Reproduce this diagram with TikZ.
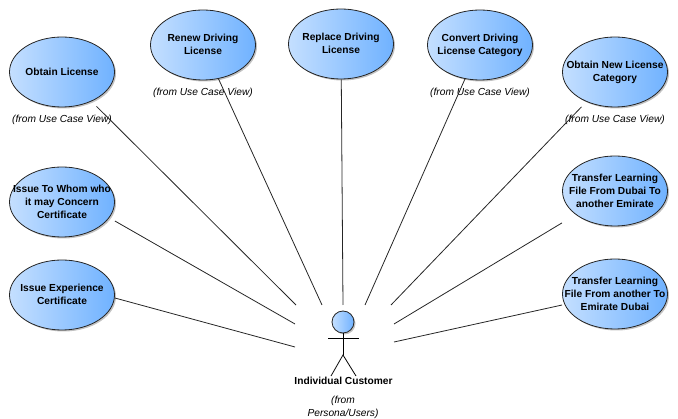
\documentclass[tikz,border=0pt]{standalone}
\usepackage{fontspec}
\setmainfont{Liberation Sans}
\usetikzlibrary{shadows,shapes.geometric}

\definecolor{caselight}{RGB}{196,223,255}
\definecolor{casedark}{RGB}{112,178,255}

\newcommand{\casetext}[1]{\raisebox{-6pt}{\smash{\makebox[0pt]{\begin{tabular}{@{}c@{}}#1\end{tabular}}}}}

\begin{document}
\begin{tikzpicture}[x=1pt,y=-1pt,node distance=47.5pt,line width=0.8pt,
  case node/.style={ellipse,draw=black!85,minimum width=105pt,minimum height=70pt,inner sep=0pt,
    left color=caselight,right color=casedark,
    drop shadow={shadow xshift=1.5pt,shadow yshift=-1.5pt,fill=black!40,opacity=.6},
    font=\fontsize{10.2}{13}\selectfont\bfseries},
  from node/.style={inner sep=0pt,align=center,font=\fontsize{10.2}{13}\selectfont\itshape}]

 \useasboundingbox (0,0) rectangle (678,419);

 \node[case node] (obtain) at (62,72) {\casetext{Obtain License}};
 \node[case node] (renew) at (203,45) {\casetext{Renew Driving\\License}};
 \node[case node] (replace) at (341,44) {\casetext{Replace Driving\\License}};
 \node[case node] (convert) at (480,45) {\casetext{Convert Driving\\License Category}};
 \node[case node] (new) at (615,72) {\casetext{Obtain New License\\Category}};
 \node[case node] (whom) at (62,202) {\casetext{Issue To Whom who\\it may Concern\\Certificate}};
 \node[case node] (experience) at (62,295) {\casetext{Issue Experience\\Certificate}};
 \node[case node] (dubai) at (615,191) {\casetext{Transfer Learning\\File From Dubai To\\another Emirate}};
 \node[case node] (emirate) at (615,294) {\casetext{Transfer Learning\\File From another To\\Emirate Dubai}};

 \node[from node] (obtainfrom) [below of=obtain] {(from Use Case View)};
 \node[from node] (renewfrom) [below of=renew] {(from Use Case View)};
 \node[from node] (convertfrom) [below of=convert] {(from Use Case View)};
 \node[from node] (newfrom) [below of=new] {(from Use Case View)};

 % actor
 \node[circle,draw=black!85,minimum size=22pt,inner sep=0pt,left color=caselight,right color=casedark,
   drop shadow={shadow xshift=1.5pt,shadow yshift=-1.5pt,fill=black!40,opacity=.6}] (actor) at (343,322) {};
 \coordinate (armleft) at (328,338);
 \coordinate (armright) at (359,338);
 \coordinate (hip) at (343,355);
 \coordinate (footleft) at (331,376);
 \coordinate (footright) at (356,376);
 \draw (actor) -- (hip);
 \draw (armleft) -- (armright);
 \draw (footleft) -- (hip) -- (footright);
 \node[inner sep=0pt,font=\fontsize{10.2}{13}\selectfont\bfseries] (customer) at (343.5,381) {Individual Customer};
 \node[from node] (customerfrom) at (343,407.5) {(from\\Persona/Users)};

 % free ends round the actor
 \coordinate (endobtain) at (296,305);
 \coordinate (endrenew) at (322,305);
 \coordinate (endreplace) at (343,305);
 \coordinate (endconvert) at (365,305);
 \coordinate (endnew) at (391,305);
 \coordinate (endwhom) at (295,324);
 \coordinate (endexperience) at (295,347);
 \coordinate (enddubai) at (394,324);
 \coordinate (endemirate) at (394,342);

 \path[draw=black!85]
    (obtain)	edge [shorten <=7pt] (endobtain)
    (renew)	edge (endrenew)
    (replace)	edge (endreplace)
    (convert)	edge (endconvert)
    (new)	edge [shorten <=7pt] (endnew)
    (whom.east)	++(0,19) edge (endwhom)
    (experience.east)	++(0,3) edge (endexperience)
    (dubai)	edge [shorten <=16pt] (enddubai)
    (emirate.west)	++(0,11) edge (endemirate);

\end{tikzpicture}
\end{document}
